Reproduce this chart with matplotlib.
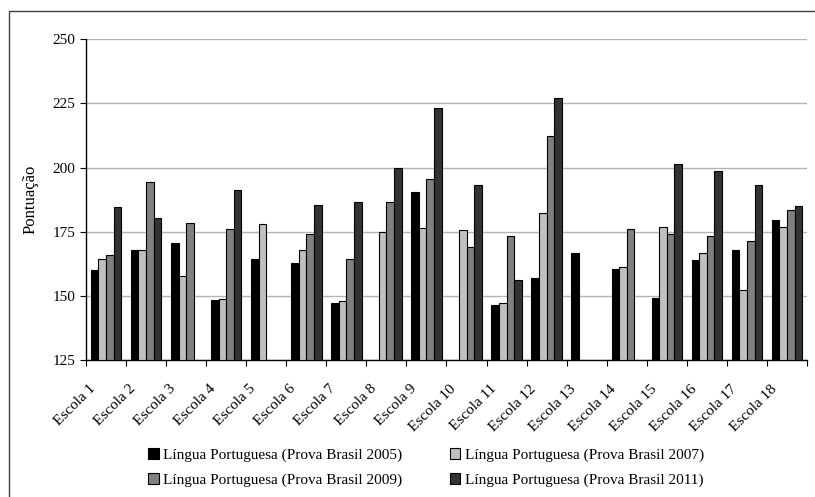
import numpy as np
import matplotlib.pyplot as plt
from matplotlib.patches import Rectangle
from matplotlib.transforms import ScaledTranslation

plt.rcParams['font.family'] = 'Liberation Serif'

escolas = ['Escola %d' % i for i in range(1, 19)]
series_names = ['Língua Portuguesa (Prova Brasil 2005)',
                'Língua Portuguesa (Prova Brasil 2007)',
                'Língua Portuguesa (Prova Brasil 2009)',
                'Língua Portuguesa (Prova Brasil 2011)']

nan = np.nan
pb2005 = [160.1, 167.9, 170.5, 148.2, 164.3, 162.8, 147.2, nan, 190.6,
          nan, 146.6, 156.9, 166.9, 160.3, 149.1, 163.9, 167.9, 179.5]
pb2007 = [164.2, 167.9, 157.7, 148.6, 178.1, 167.8, 148.0, 174.9, 176.4,
          175.8, 147.1, 182.2, nan, 161.2, 176.9, 166.9, 152.1, 176.9]
pb2009 = [165.9, 194.2, 178.5, 175.9, nan, 174.0, 164.2, 186.6, 195.7,
          169.2, 173.3, 212.2, nan, 175.9, 174.0, 173.3, 171.4, 183.6]
pb2011 = [184.7, 180.5, nan, 191.1, nan, 185.6, 186.6, 199.7, 223.1,
          193.2, 156.2, 227.2, nan, nan, 201.3, 198.7, 193.2, 185.2]

colors = ['#000000', '#c0c0c0', '#808080', '#333333']

fig = plt.figure(figsize=(8.15, 4.97), dpi=100)
ax = fig.add_axes([86 / 815, 1 - 360 / 497, 721 / 815, 320.7 / 497])

# outer frame (cropped on the right and bottom)
fig.patches.append(Rectangle((9 / 815, -0.1), 1.2, 1 - 11 / 497 + 0.1,
                             transform=fig.transFigure, fill=False,
                             edgecolor='#404040', linewidth=1.0))

x = np.arange(len(escolas))
w = 0.19
bars = []
for i, (vals, c, name) in enumerate(zip([pb2005, pb2007, pb2009, pb2011],
                                        colors, series_names)):
    v = np.array(vals, dtype=float)
    b = ax.bar(x + (i - 1.5) * w, v - 125, bottom=125, width=w, color=c,
               edgecolor='black', linewidth=0.8, label=name, zorder=3)
    bars.append(b)

ax.set_xlim(-0.5, len(escolas) - 0.5)
ax.set_ylim(125, 250)
ax.set_yticks([125, 150, 175, 200, 225, 250])
ax.yaxis.grid(True, color='#b4b4b4', linewidth=1.0, zorder=0)
ax.set_axisbelow(True)
for s in ['top', 'right']:
    ax.spines[s].set_visible(False)
ax.spines['left'].set_linewidth(1.0)
ax.spines['bottom'].set_linewidth(1.0)

ax.set_xticks(np.arange(len(escolas) + 1) - 0.5, minor=False)
ax.set_xticklabels([])
ax.set_xticks(x, minor=True)
ax.set_xticklabels(escolas, minor=True, rotation=45, ha='right', va='top',
                   rotation_mode='anchor', fontsize=11)
ax.tick_params(axis='x', which='minor', length=0, pad=16)
ax.tick_params(axis='x', which='major', direction='out', length=4)
ax.tick_params(axis='y', direction='out', length=4, labelsize=11)
off = ScaledTranslation(-17 / 100, 0, fig.dpi_scale_trans)
for lbl in ax.get_xticklabels(minor=True):
    lbl.set_transform(lbl.get_transform() + off)

ax.set_ylabel('Pontuação', fontsize=12, labelpad=10)

# legend filled row by row: 2005, 2007 / 2009, 2011
order = [0, 2, 1, 3]
fig.legend([bars[k] for k in order], [series_names[k] for k in order],
           loc='center', bbox_to_anchor=(426 / 815, 1 - 467.5 / 497), ncol=2,
           frameon=False, fontsize=11, handlelength=0.7, handleheight=0.7,
           handletextpad=0.3, columnspacing=3.1, labelspacing=0.75)

fig.savefig('out.png', dpi=100)
